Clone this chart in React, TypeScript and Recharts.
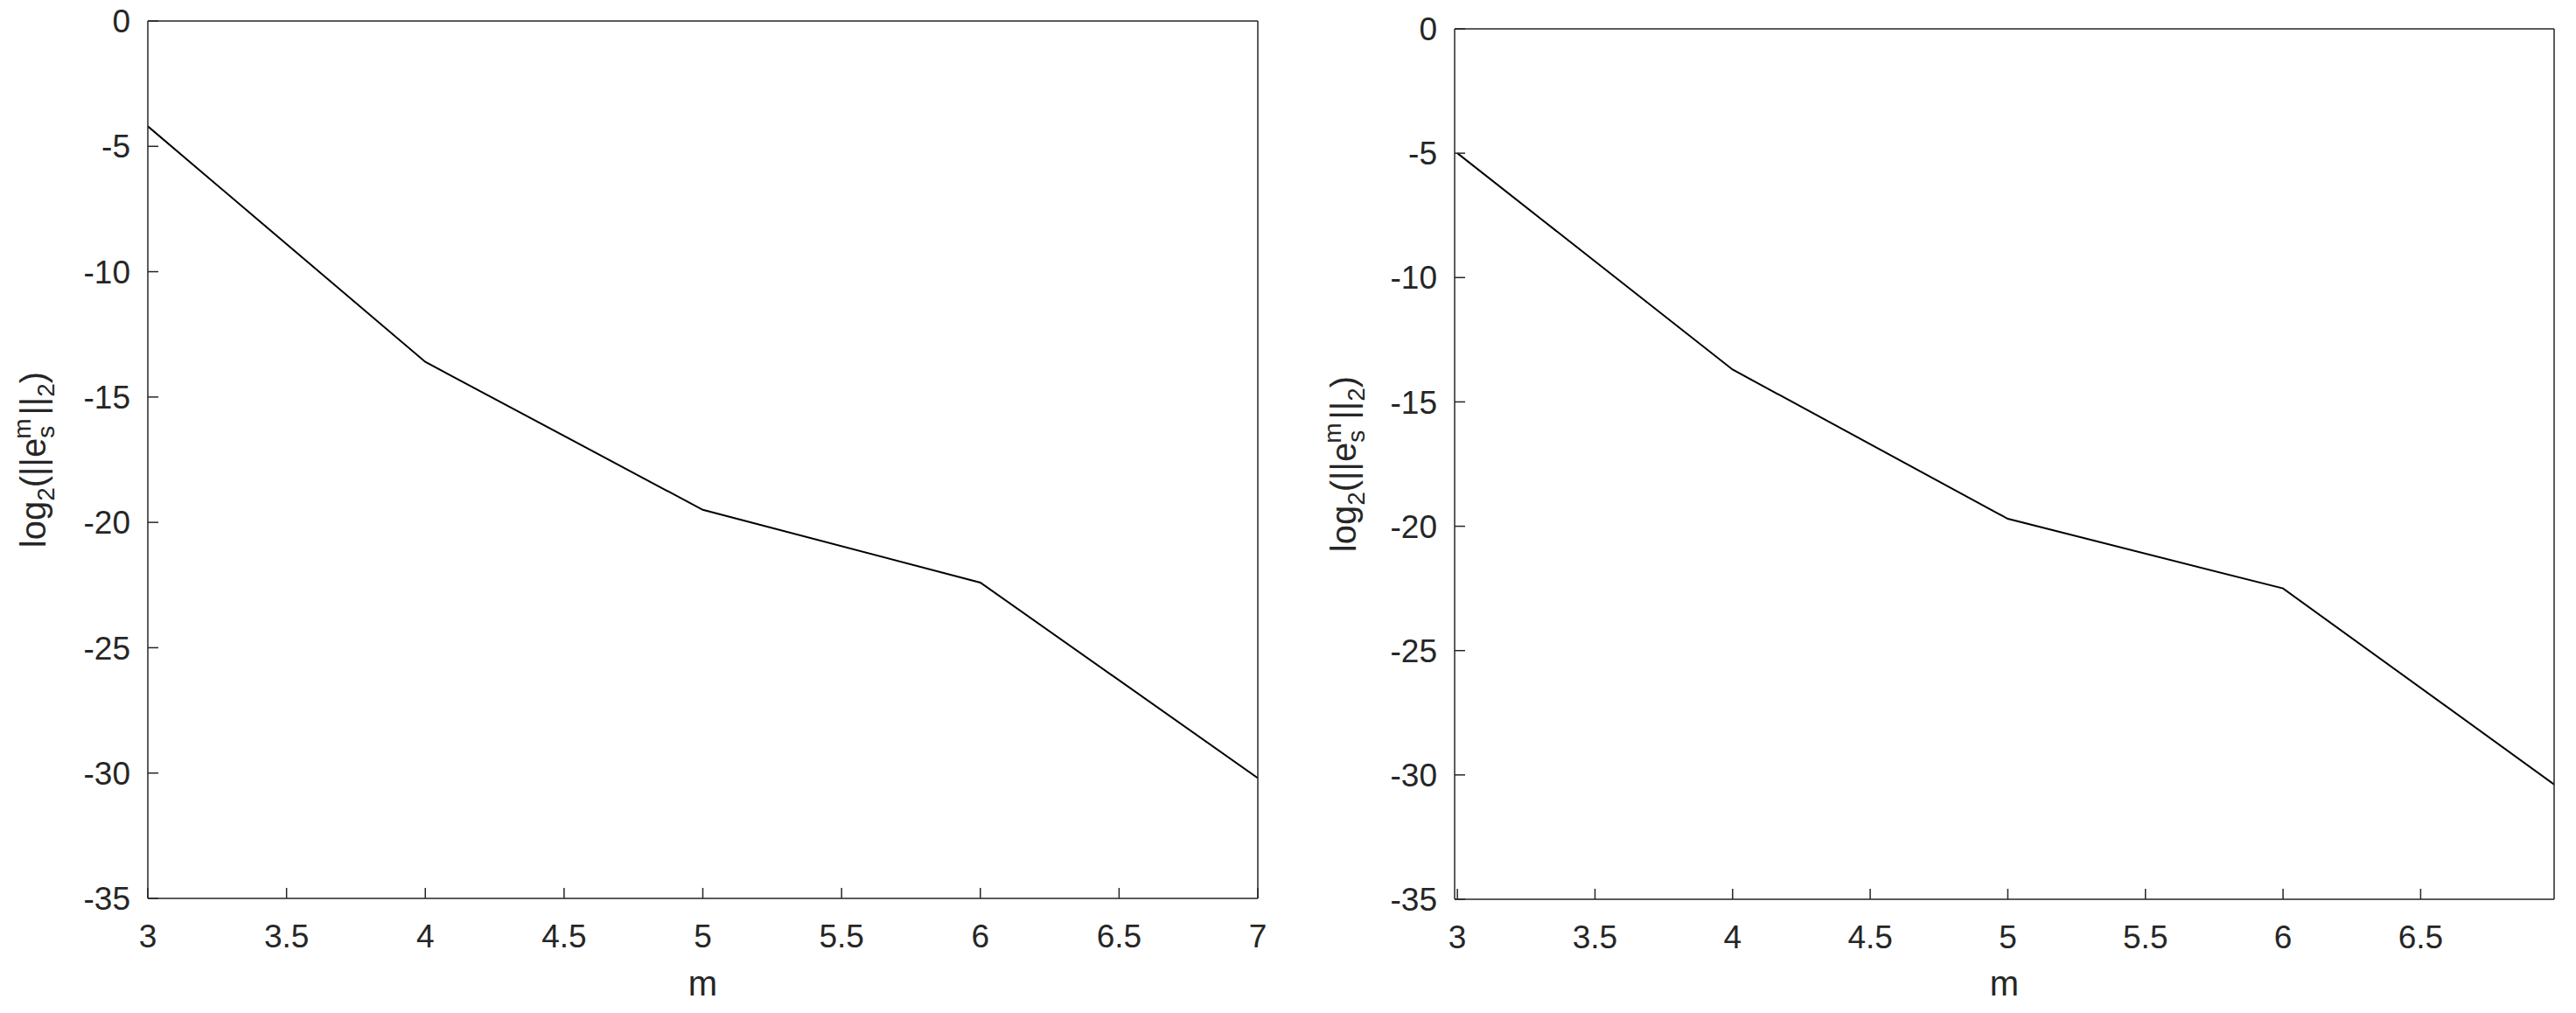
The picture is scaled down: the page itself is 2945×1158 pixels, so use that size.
import React from 'react';
import { LineChart, Line, XAxis, YAxis } from 'recharts';

const mValues = [3, 4, 5, 6, 7];
const leftErrors = [-4.2, -13.6, -19.5, -22.4, -30.2];
const rightErrors = [-5.0, -13.7, -19.7, -22.5, -30.5];
const leftXTicks = [3, 3.5, 4, 4.5, 5, 5.5, 6, 6.5, 7];
const rightXTicks = [3, 3.5, 4, 4.5, 5, 5.5, 6, 6.5];
const yTicks = [-35, -30, -25, -20, -15, -10, -5, 0];
const xTitle = 'm';

const leftData = mValues.map((m, i) => ({ m, v: leftErrors[i] }));
const rightData = mValues.map((m, i) => ({ m, v: rightErrors[i] }));

const FONT = '"Liberation Sans", Arial, Helvetica, sans-serif';
const INK = '#262626';
const tickStyle = { fontSize: 37, fill: INK, fontFamily: FONT };

function YTitle({ x, y }: { x: number; y: number }) {
  return (
    <text
      x={x}
      y={y}
      transform={`rotate(-90, ${x}, ${y})`}
      textAnchor="middle"
      fill={INK}
      fontFamily={FONT}
      fontSize={40}
    >
      <tspan>log</tspan>
      <tspan fontSize={28} dy={10}>2</tspan>
      <tspan fontSize={40} dy={-10}>(||e</tspan>
      <tspan fontSize={28} dy={10}>s</tspan>
      <tspan fontSize={28} dx={-15} dy={-27}>m</tspan>
      <tspan fontSize={40} dx={4} dy={17}>||</tspan>
      <tspan fontSize={28} dy={10}>2</tspan>
      <tspan fontSize={40} dy={-10}>)</tspan>
    </text>
  );
}

function XTitle({ x, y }: { x: number; y: number }) {
  return (
    <text x={x} y={y} textAnchor="middle" fill={INK} fontFamily={FONT} fontSize={40}>
      {xTitle}
    </text>
  );
}

type PanelProps = {
  data: { m: number; v: number }[];
  left: number;
  width: number;
  plot: { top: number; right: number; bottom: number; left: number };
  xDomain: [number, number];
  xTicks: number[];
  yTitlePos: { x: number; y: number };
  xTitlePos: { x: number; y: number };
};

function Panel({ data, left, width, plot, xDomain, xTicks, yTitlePos, xTitlePos }: PanelProps) {
  const margin = {
    top: plot.top - 1,
    left: plot.left - 1,
    right: plot.right - 1,
    bottom: plot.bottom - 1,
  };
  return (
    <div style={{ position: 'absolute', left, top: 0 }}>
      <LineChart width={width} height={1158} data={data} margin={margin}>
        <XAxis
          dataKey="m"
          type="number"
          domain={xDomain}
          ticks={xTicks}
          interval={0}
          allowDataOverflow
          height={1}
          tickSize={-12}
          tickMargin={42}
          stroke={INK}
          strokeWidth={1.5}
          tick={tickStyle}
          label={{ content: () => <XTitle x={xTitlePos.x} y={xTitlePos.y} /> }}
        />
        <XAxis
          xAxisId="top"
          orientation="top"
          dataKey="m"
          type="number"
          domain={xDomain}
          ticks={xTicks}
          interval={0}
          allowDataOverflow
          height={1}
          tickSize={-12}
          stroke={INK}
          strokeWidth={1.5}
          tick={false}
        />
        <YAxis
          type="number"
          domain={[-35, 0]}
          ticks={yTicks}
          interval={0}
          allowDataOverflow
          width={1}
          tickSize={-12}
          tickMargin={32}
          stroke={INK}
          strokeWidth={1.5}
          tick={tickStyle}
          label={{ content: () => <YTitle x={yTitlePos.x} y={yTitlePos.y} /> }}
        />
        <YAxis
          yAxisId="r"
          orientation="right"
          type="number"
          domain={[-35, 0]}
          ticks={yTicks}
          interval={0}
          width={1}
          tickSize={-12}
          stroke={INK}
          strokeWidth={1.5}
          tick={false}
        />
        <Line
          type="linear"
          dataKey="v"
          stroke="#000000"
          strokeWidth={2}
          dot={false}
          isAnimationActive={false}
        />
      </LineChart>
    </div>
  );
}

export default function App() {
  return (
    <div
      style={{
        position: 'absolute',
        left: 0,
        top: 0,
        width: 2945,
        height: 1158,
        background: '#ffffff',
        overflow: 'hidden',
      }}
    >
      <Panel
        data={leftData}
        left={0}
        width={1460}
        plot={{ top: 24, right: 22, bottom: 131, left: 169 }}
        xDomain={[3, 7]}
        xTicks={leftXTicks}
        yTitlePos={{ x: 52, y: 525.5 }}
        xTitlePos={{ x: 803.5, y: 1138 }}
      />
      <Panel
        data={rightData}
        left={1472}
        width={1473}
        plot={{ top: 33, right: 25, bottom: 130, left: 191 }}
        xDomain={[2.99, 6.985]}
        xTicks={rightXTicks}
        yTitlePos={{ x: 78, y: 530.5 }}
        xTitlePos={{ x: 819.5, y: 1138 }}
      />
    </div>
  );
}
